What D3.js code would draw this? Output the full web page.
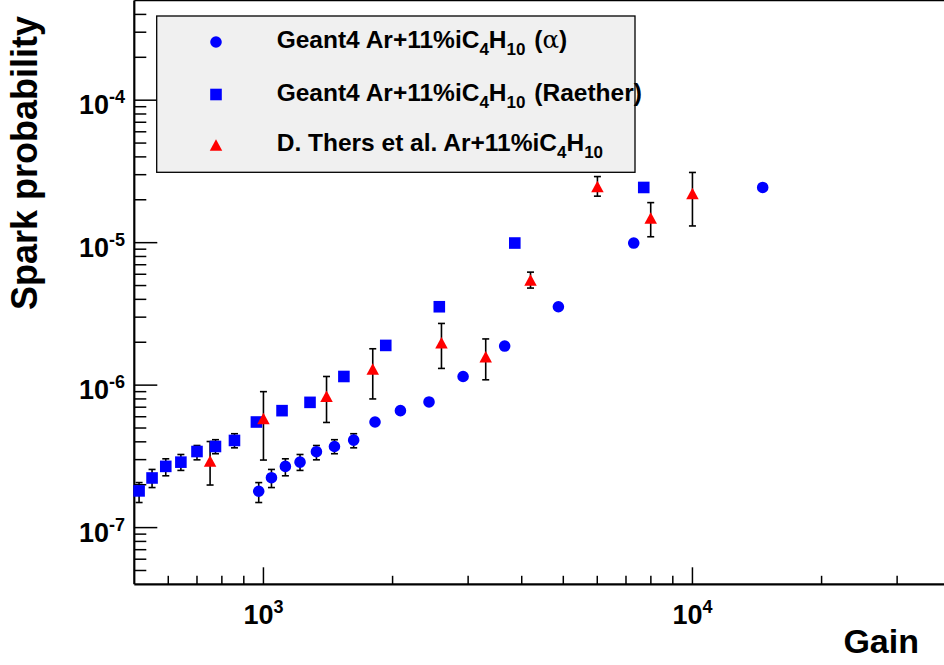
<!DOCTYPE html>
<html>
<head>
<meta charset="utf-8">
<script src="https://cdn.jsdelivr.net/npm/d3@7"></script>
<style>
  html, body { margin: 0; padding: 0; background: #ffffff; }
  svg { display: block; }
  text { font-family: "Liberation Sans", Arial, Helvetica, sans-serif; font-weight: bold; fill: #000; }
</style>
</head>
<body>
<svg id="chart" width="944" height="665"></svg>
<script>
// ---------------- DATA ----------------
// Geant4 Ar+11%iC4H10 (alpha)
const alphaGain = [975, 1044, 1125, 1217, 1329, 1464, 1623, 1820, 2086, 2432, 2920, 3650, 4870, 7297, 14580];
const alphaProb = [1.80e-7, 2.24e-7, 2.69e-7, 2.88e-7, 3.41e-7, 3.71e-7, 4.11e-7, 5.51e-7, 6.62e-7, 7.62e-7, 1.15e-6, 1.88e-6, 3.55e-6, 9.94e-6, 2.44e-5];
const alphaLow  = [1.50e-7, 1.91e-7, 2.31e-7, 2.52e-7, 2.99e-7, 3.30e-7, 3.63e-7, null, null, null, null, null, null, null, null];
const alphaHigh = [2.07e-7, 2.56e-7, 3.04e-7, 3.26e-7, 3.77e-7, 4.14e-7, 4.56e-7, null, null, null, null, null, null, null, null];

// Geant4 Ar+11%iC4H10 (Raether)
const raetherGain = [513, 550, 592, 642, 700, 773, 856, 963, 1105, 1284, 1540, 1928, 2570, 3854, 7700];
const raetherProb = [1.81e-7, 2.23e-7, 2.69e-7, 2.88e-7, 3.42e-7, 3.71e-7, 4.09e-7, 5.51e-7, 6.62e-7, 7.57e-7, 1.15e-6, 1.90e-6, 3.55e-6, 9.94e-6, 2.44e-5];
const raetherLow  = [1.50e-7, 1.91e-7, 2.31e-7, 2.52e-7, 2.99e-7, 3.30e-7, 3.63e-7, null, null, null, null, null, null, null, null];
const raetherHigh = [2.07e-7, 2.56e-7, 3.04e-7, 3.26e-7, 3.77e-7, 4.14e-7, 4.56e-7, null, null, null, null, null, null, null, null];

// D. Thers et al. Ar+11%iC4H10
const thersGain = [751, 1000, 1403, 1798, 2600, 3297, 4193, 6005, 7993, 10000];
const thersProb = [2.94e-7, 5.84e-7, 8.34e-7, 1.30e-6, 1.98e-6, 1.58e-6, 5.46e-6, 2.48e-5, 1.49e-5, 2.21e-5];
const thersLow  = [1.99e-7, 2.98e-7, 5.47e-7, 8.0e-7, 1.31e-6, 1.09e-6, 4.80e-6, 2.12e-5, 1.10e-5, 1.31e-5];
const thersHigh = [4.02e-7, 9.0e-7, 1.15e-6, 1.80e-6, 2.71e-6, 2.11e-6, 6.21e-6, 2.91e-5, 1.91e-5, 3.11e-5];

// Axes
const xDomain = [500, 40000];
const yDomain = [4e-8, 5e-4];
const xMajorTicks = [1000, 10000];
const xMajorLabels = [["10", "3"], ["10", "4"]];
const xMinorTicks = [600, 700, 800, 900, 2000, 3000, 4000, 5000, 6000, 7000, 8000, 9000, 20000, 30000];
const yMajorTicks = [1e-7, 1e-6, 1e-5, 1e-4];
const yMajorLabels = [["10", "-7"], ["10", "-6"], ["10", "-5"], ["10", "-4"]];
const yMinorTicks = [5e-8, 6e-8, 7e-8, 8e-8, 9e-8,
  2e-7, 3e-7, 4e-7, 5e-7, 6e-7, 7e-7, 8e-7, 9e-7,
  2e-6, 3e-6, 4e-6, 5e-6, 6e-6, 7e-6, 8e-6, 9e-6,
  2e-5, 3e-5, 4e-5, 5e-5, 6e-5, 7e-5, 8e-5, 9e-5,
  2e-4, 3e-4, 4e-4];

const xTitle = "Gain";
const yTitle = "Spark probability";

// ---------------- LAYOUT ----------------
const W = 944, H = 665;
const plotLeft = 134.3, plotTop = 0.6, plotBottom = 584.3;
const decadePx = 429;
const plotRight = plotLeft + decadePx * Math.log10(xDomain[1] / xDomain[0]);

const BLUE = "#0000ff", RED = "#ff0000";

const svg = d3.select("#chart");
svg.append("rect").attr("width", W).attr("height", H).attr("fill", "#fff");

const x = d3.scaleLog().domain(xDomain).range([plotLeft, plotRight]);
const y = d3.scaleLog().domain(yDomain).range([plotBottom, plotTop]);

// frame
const frame = svg.append("g");
frame.append("line").attr("x1", plotLeft).attr("x2", plotRight).attr("y1", plotTop).attr("y2", plotTop)
  .attr("stroke", "#000").attr("stroke-width", 1.5);
frame.append("line").attr("x1", plotRight).attr("x2", plotRight).attr("y1", plotTop).attr("y2", plotBottom)
  .attr("stroke", "#000").attr("stroke-width", 1.5);

// x ticks
const gx = svg.append("g");
gx.selectAll("line.major").data(xMajorTicks).join("line")
  .attr("x1", d => x(d)).attr("x2", d => x(d))
  .attr("y1", plotBottom).attr("y2", plotBottom - 17)
  .attr("stroke", "#000").attr("stroke-width", 1.5);
gx.selectAll("line.minor").data(xMinorTicks).join("line")
  .attr("x1", d => x(d)).attr("x2", d => x(d))
  .attr("y1", plotBottom).attr("y2", plotBottom - 8.5)
  .attr("stroke", "#000").attr("stroke-width", 1.5);
xMajorTicks.forEach((t, i) => {
  const tx = gx.append("text").attr("x", x(t)).attr("y", plotBottom + 40)
    .attr("text-anchor", "middle").style("font-size", "27px");
  tx.append("tspan").text(xMajorLabels[i][0]);
  tx.append("tspan").attr("dy", -11).style("font-size", "18px").text(xMajorLabels[i][1]);
});

// y ticks
const gy = svg.append("g");
gy.selectAll("line.major").data(yMajorTicks).join("line")
  .attr("x1", plotLeft).attr("x2", plotLeft + 23)
  .attr("y1", d => y(d)).attr("y2", d => y(d))
  .attr("stroke", "#000").attr("stroke-width", 1.5);
gy.selectAll("line.minor").data(yMinorTicks).join("line")
  .attr("x1", plotLeft).attr("x2", plotLeft + 12)
  .attr("y1", d => y(d)).attr("y2", d => y(d))
  .attr("stroke", "#000").attr("stroke-width", 1.5);
yMajorTicks.forEach((t, i) => {
  const tx = gy.append("text").attr("x", 125).attr("y", y(t) + 14)
    .attr("text-anchor", "end").style("font-size", "27px");
  tx.append("tspan").text(yMajorLabels[i][0]);
  tx.append("tspan").attr("dy", -11).style("font-size", "18px").text(yMajorLabels[i][1]);
});

// axis lines
svg.append("line").attr("x1", plotLeft).attr("x2", plotRight).attr("y1", plotBottom).attr("y2", plotBottom)
  .attr("stroke", "#000").attr("stroke-width", 2.2);
svg.append("line").attr("x1", plotLeft).attr("x2", plotLeft).attr("y1", plotTop).attr("y2", plotBottom)
  .attr("stroke", "#000").attr("stroke-width", 2.2);

// axis titles
svg.append("text").attr("x", 919).attr("y", 653).attr("text-anchor", "end")
  .style("font-size", "34px").text(xTitle);
svg.append("text").attr("transform", "translate(37,310) rotate(-90)")
  .attr("text-anchor", "start").style("font-size", "36px").text(yTitle);

// ---------------- MARKERS ----------------
const triPath = (w, h) => `M0,${-h/2}L${w/2},${h/2}L${-w/2},${h/2}Z`;
const markerPath = {
  circle: d3.symbol().type(d3.symbolCircle).size(Math.PI * 5.8 * 5.8)(),
  square: `M-5.8,-5.8H5.8V5.8H-5.8Z`,
  triangle: triPath(12.5, 11.5)
};

function series(gain, prob, low, high) {
  return gain.map((g, i) => ({ g, p: prob[i], lo: low[i], hi: high[i] }));
}
const allSeries = [
  { key: "alpha", data: series(alphaGain, alphaProb, alphaLow, alphaHigh), shape: "circle", color: BLUE },
  { key: "raether", data: series(raetherGain, raetherProb, raetherLow, raetherHigh), shape: "square", color: BLUE },
  { key: "thers", data: series(thersGain, thersProb, thersLow, thersHigh), shape: "triangle", color: RED }
];

const plot = svg.append("g");
allSeries.forEach(s => {
  const g = plot.append("g");
  const withErr = s.data.filter(d => d.lo != null && d.hi != null);
  g.selectAll("line.err").data(withErr).join("line")
    .attr("x1", d => x(d.g)).attr("x2", d => x(d.g))
    .attr("y1", d => y(d.hi)).attr("y2", d => y(d.lo))
    .attr("stroke", "#000").attr("stroke-width", 1.6);
  g.selectAll("line.capT").data(withErr).join("line")
    .attr("x1", d => x(d.g) - 3.5).attr("x2", d => x(d.g) + 3.5)
    .attr("y1", d => y(d.hi)).attr("y2", d => y(d.hi))
    .attr("stroke", "#000").attr("stroke-width", 1.6);
  g.selectAll("line.capB").data(withErr).join("line")
    .attr("x1", d => x(d.g) - 3.5).attr("x2", d => x(d.g) + 3.5)
    .attr("y1", d => y(d.lo)).attr("y2", d => y(d.lo))
    .attr("stroke", "#000").attr("stroke-width", 1.6);
});
allSeries.forEach(s => {
  plot.append("g").selectAll("path").data(s.data).join("path")
    .attr("transform", d => `translate(${x(d.g)},${y(d.p)})`)
    .attr("d", markerPath[s.shape]).attr("fill", s.color);
});

// ---------------- LEGEND ----------------
const leg = svg.append("g");
leg.append("rect").attr("x", 156.7).attr("y", 16).attr("width", 478.3).attr("height", 156.3)
  .attr("fill", "#f0f0f0").attr("stroke", "#000").attr("stroke-width", 1.3);
const rowY = [48, 100.5, 151];
allSeries.forEach((s, i) => {
  leg.append("path").attr("transform", `translate(216,${rowY[i] - 6})`)
    .attr("d", markerPath[s.shape]).attr("fill", s.color);
});
const legFont = "24.5px", subFont = "17px";
function gasText(t) {
  t.append("tspan").text("Ar+11%iC");
  t.append("tspan").attr("dy", 7).style("font-size", subFont).text("4");
  t.append("tspan").attr("dy", -7).text("H");
  t.append("tspan").attr("dy", 7).style("font-size", subFont).text("10");
  t.append("tspan").attr("dy", -7).text("\u200A");
}
{
  const t = leg.append("text").attr("x", 276.7).attr("y", rowY[0]).style("font-size", legFont);
  t.append("tspan").text("Geant4 ");
  gasText(t);
  t.append("tspan").text(" (");
  t.append("tspan").style("font-weight", "normal").style("font-family", "'DejaVu Serif', serif").text("\u03B1");
  t.append("tspan").text(")");
}
{
  const t = leg.append("text").attr("x", 276.7).attr("y", rowY[1]).style("font-size", legFont);
  t.append("tspan").text("Geant4 ");
  gasText(t);
  t.append("tspan").text(" (Raether)");
}
{
  const t = leg.append("text").attr("x", 276.7).attr("y", rowY[2]).style("font-size", legFont);
  t.append("tspan").text("D. Thers et al. ");
  gasText(t);
}
</script>
</body>
</html>
